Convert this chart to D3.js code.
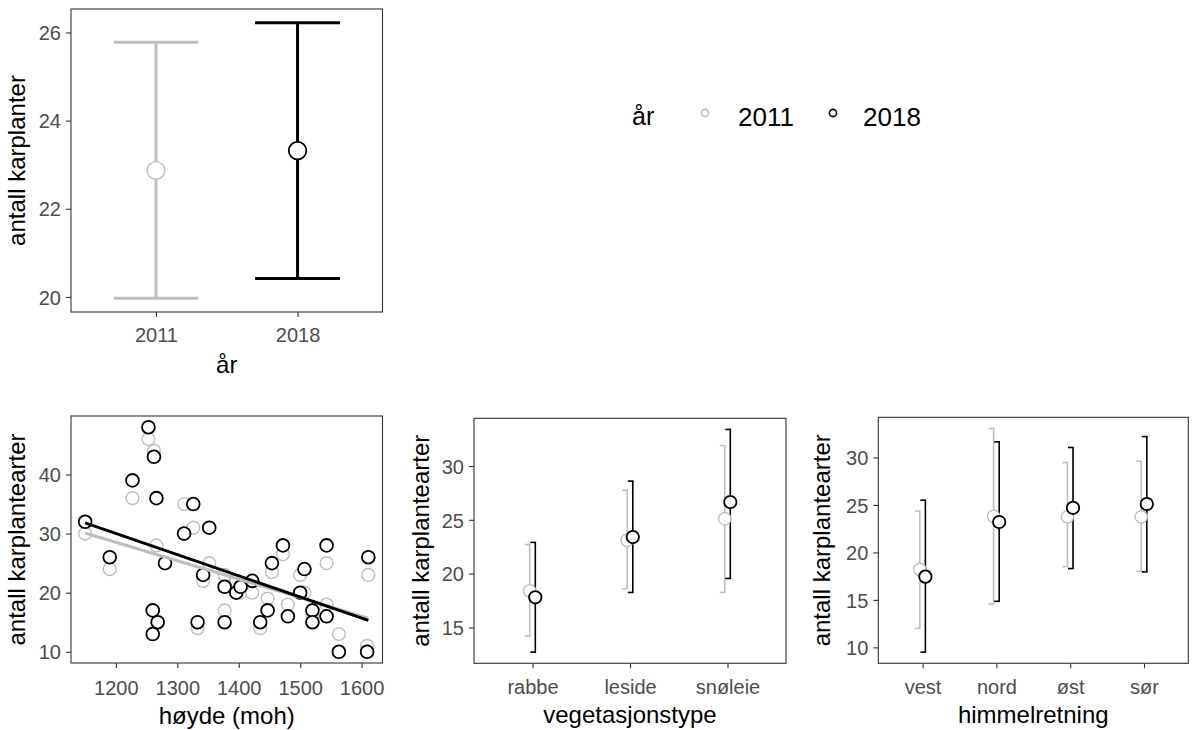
<!DOCTYPE html>
<html>
<head>
<meta charset="utf-8">
<script src="https://cdn.jsdelivr.net/npm/d3@7"></script>
<style>
  html, body { margin: 0; padding: 0; background: #fff; }
  svg { display: block; font-family: "Liberation Sans", Arial, sans-serif; }
</style>
</head>
<body>
<svg id="chart" width="1192" height="730"></svg>
<script>
// ---------- data ----------
const years = ["2011", "2018"];
const yearColors = ["#BEBEBE", "#000000"];

// overall (top-left)
const overallLower = [19.97, 20.42];
const overallMean  = [22.87, 23.32];
const overallUpper = [25.78, 26.22];
const overallTicks = [20, 22, 24, 26];

// altitude scatter
const altitude    = [1150,1190,1227,1253,1262,1266,1260,1268,1260,1280,1311,1326,1333,1342,1352,1377,1377,1396,1403,1422,1435,1447,1454,1472,1480,1500,1507,1520,1520,1543,1543,1563,1611,1609];
const species2011 = [30,24,36,46,44,28,17,15,13,25,35,31,14,22,25,23,17,22,20,20,14,19,23.5,26.5,18,23,20,16,15,25,18,13,23,11];
const species2018 = [32,26,39,48,43,36,17,15,13,25,30,35,15,23,31,21,15,20,21,22,15,17,25,28,16,20,24,17,15,28,16,10,26,10];
const fitAltitude = [1150, 1611];
const fit2011     = [30.1, 15.7];
const fit2018     = [31.8, 15.3];
const altXTicks = [1200, 1300, 1400, 1500, 1600];
const altYTicks = [10, 20, 30, 40];

// vegetation type
const vegTypes   = ["rabbe", "leside", "snøleie"];
const veg2011Mean  = [18.4, 23.1, 25.1];
const veg2011Lower = [14.2, 18.6, 18.25];
const veg2011Upper = [22.7, 27.75, 31.9];
const veg2018Mean  = [17.8, 23.4, 26.65];
const veg2018Lower = [12.7, 18.25, 19.55];
const veg2018Upper = [22.9, 28.6, 33.4];
const vegYTicks = [15, 20, 25, 30];

// aspect
const directions = ["vest", "nord", "øst", "sør"];
const dir2011Mean  = [18.2, 23.8, 23.75, 23.75];
const dir2011Lower = [12.0, 14.55, 18.5, 18.0];
const dir2011Upper = [24.35, 33.05, 29.45, 29.6];
const dir2018Mean  = [17.45, 23.2, 24.7, 25.1];
const dir2018Lower = [9.5, 14.85, 18.3, 17.95];
const dir2018Upper = [25.5, 31.65, 31.05, 32.2];
const dirYTicks = [10, 15, 20, 25, 30];

// ---------- helpers ----------
const svg = d3.select("#chart");
const TICK_FS = 20, TITLE_FS = 24;
const AXIS_COL = "#333333", TICK_TXT = "#4D4D4D";
const pointStroke = [1.4, 1.8];

function expand(vals) {
  const lo = d3.min(vals), hi = d3.max(vals), r = hi - lo;
  return [lo - 0.05 * r, hi + 0.05 * r];
}

function frame(p) {
  svg.append("rect")
    .attr("x", p.l).attr("y", p.t)
    .attr("width", p.r - p.l).attr("height", p.b - p.t)
    .attr("fill", "none").attr("stroke", AXIS_COL).attr("stroke-width", 1.1);
}

function axes(p, x, y, xTicks, yTicks, xFmt, xLabelY, xTitle, xTitleY, yTitle, yTitleX) {
  const g = svg.append("g");
  const ya = d3.axisLeft(y).tickValues(yTicks).tickSize(5).tickPadding(5).tickFormat(d3.format("d"));
  const gy = g.append("g").attr("transform", `translate(${p.l},0)`).call(ya);
  const xa = (x.bandwidth ? d3.axisBottom(x) : d3.axisBottom(x).tickValues(xTicks).tickFormat(xFmt))
    .tickSize(5).tickPadding(0);
  const gx = g.append("g").attr("transform", `translate(0,${p.b})`).call(xa);
  [gx, gy].forEach(a => {
    a.select(".domain").remove();
    a.selectAll(".tick line").attr("stroke", AXIS_COL).attr("stroke-width", 1.1);
    a.selectAll(".tick text").attr("fill", TICK_TXT)
      .style("font-size", TICK_FS + "px").style("font-family", '"Liberation Sans", Arial, sans-serif');
  });
  gx.selectAll(".tick text").attr("y", xLabelY - p.b).attr("dy", null);
  gy.selectAll(".tick text").attr("dy", "0.36em");
  g.append("text").text(xTitle)
    .attr("x", (p.l + p.r) / 2).attr("y", xTitleY)
    .attr("text-anchor", "middle").style("font-size", TITLE_FS + "px").attr("fill", "#000");
  g.append("text").text(yTitle)
    .attr("transform", `translate(${yTitleX},${(p.t + p.b) / 2}) rotate(-90)`)
    .attr("text-anchor", "middle").style("font-size", TITLE_FS + "px").attr("fill", "#000");
}

// ---------- panel 1: overall ----------
(function () {
  const p = { l: 71, r: 382.5, t: 9, b: 312 };
  const x = d3.scalePoint().domain(years).range([p.l, p.r]).padding(0.6);
  const y = d3.scaleLinear().domain(expand(overallLower.concat(overallUpper))).range([p.b, p.t]);
  const capW = 0.6 * x.step();
  const g = svg.append("g");
  years.forEach((yr, i) => {
    const cx = x(yr), col = yearColors[i];
    g.append("line").attr("x1", cx).attr("x2", cx)
      .attr("y1", y(overallLower[i])).attr("y2", y(overallUpper[i]))
      .attr("stroke", col).attr("stroke-width", 3);
    [overallLower[i], overallUpper[i]].forEach(v => {
      g.append("line").attr("x1", cx - capW / 2).attr("x2", cx + capW / 2)
        .attr("y1", y(v)).attr("y2", y(v)).attr("stroke", col).attr("stroke-width", 3);
    });
  });
  years.forEach((yr, i) => {
    g.append("circle").attr("cx", x(yr)).attr("cy", y(overallMean[i])).attr("r", 8.8)
      .attr("fill", "#fff").attr("stroke", yearColors[i]).attr("stroke-width", pointStroke[i]);
  });
  frame(p);
  axes(p, x, y, null, overallTicks, null, 342, "år", 373, "antall karplanter", 25);
})();

// ---------- legend ----------
(function () {
  const g = svg.append("g").style("font-size", "25px");
  g.append("text").text("år").attr("x", 632).attr("y", 125).attr("fill", "#000");
  const circX = [705, 833], textX = [738, 863];
  years.forEach((yr, i) => {
    g.append("circle").attr("cx", circX[i]).attr("cy", 113).attr("r", 3.6)
      .attr("fill", "#fff").attr("stroke", yearColors[i]).attr("stroke-width", 1.6);
    g.append("text").text(yr).attr("x", textX[i]).attr("y", 125.5)
      .style("font-size", "26px").attr("fill", "#000");
  });
})();

// ---------- panel 2: altitude scatter ----------
(function () {
  const p = { l: 71, r: 382.5, t: 416, b: 663 };
  const x = d3.scaleLinear().domain(expand(altitude)).range([p.l, p.r]);
  const y = d3.scaleLinear().domain(expand(species2011.concat(species2018))).range([p.b, p.t]);
  const g = svg.append("g");
  [species2011, species2018].forEach((vals, k) => {
    g.selectAll(null).data(altitude).enter().append("circle")
      .attr("cx", d => x(d)).attr("cy", (d, i) => y(vals[i])).attr("r", 6.4)
      .attr("fill", "#fff").attr("stroke", yearColors[k]).attr("stroke-width", pointStroke[k]);
  });
  const line = d3.line().x(d => x(d[0])).y(d => y(d[1]));
  [fit2011, fit2018].forEach((f, k) => {
    g.append("path").attr("d", line(fitAltitude.map((a, i) => [a, f[i]])))
      .attr("fill", "none").attr("stroke", yearColors[k]).attr("stroke-width", 3);
  });
  frame(p);
  axes(p, x, y, altXTicks, altYTicks, d3.format("d"), 695, "høyde (moh)", 724, "antall karplantearter", 24.5);
})();

// ---------- dodged error-bar panels ----------
function errPanel(p, cats, means, lowers, uppers, yTicks, xTitle, yTitleX) {
  const x = d3.scalePoint().domain(cats).range([p.l, p.r]).padding(0.6);
  const allVals = [].concat(...lowers, ...uppers);
  const y = d3.scaleLinear().domain(expand(allVals)).range([p.b, p.t]);
  const dodge = [-2.8, 2.8], capW = 5;
  const g = svg.append("g");
  [0, 1].forEach(k => {
    cats.forEach((c, i) => {
      const cx = x(c) + dodge[k];
      g.append("line").attr("x1", cx).attr("x2", cx)
        .attr("y1", y(lowers[k][i])).attr("y2", y(uppers[k][i]))
        .attr("stroke", yearColors[k]).attr("stroke-width", 1.6);
      [lowers[k][i], uppers[k][i]].forEach(v => {
        g.append("line").attr("x1", cx - capW).attr("x2", cx + 0.8)
          .attr("y1", y(v)).attr("y2", y(v))
          .attr("stroke", yearColors[k]).attr("stroke-width", 1.6);
      });
    });
  });
  [0, 1].forEach(k => {
    g.selectAll(null).data(cats).enter().append("circle")
      .attr("cx", d => x(d) + dodge[k]).attr("cy", (d, i) => y(means[k][i])).attr("r", 6.2)
      .attr("fill", "#fff").attr("stroke", yearColors[k]).attr("stroke-width", pointStroke[k]);
  });
  frame(p);
  axes(p, x, y, null, yTicks, null, 694, xTitle, 723, "antall karplantearter", yTitleX);
}

errPanel({ l: 474, r: 786, t: 418.3, b: 663.3 }, vegTypes,
  [veg2011Mean, veg2018Mean], [veg2011Lower, veg2018Lower], [veg2011Upper, veg2018Upper],
  vegYTicks, "vegetasjonstype", 428.5);

errPanel({ l: 878.3, r: 1188.3, t: 417.3, b: 663.3 }, directions,
  [dir2011Mean, dir2018Mean], [dir2011Lower, dir2018Lower], [dir2011Upper, dir2018Upper],
  dirYTicks, "himmelretning", 830);
</script>
</body>
</html>
